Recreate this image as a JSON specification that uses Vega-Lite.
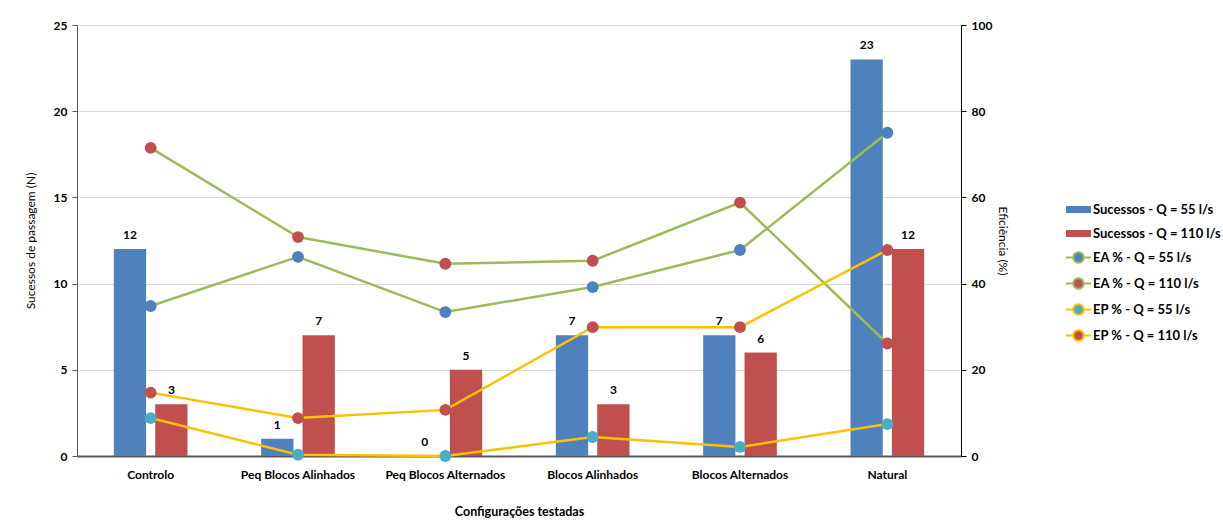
{
  "$schema": "https://vega.github.io/schema/vega-lite/v6.json",
  "width": 884,
  "height": 431,
  "autosize": "none",
  "padding": {"left": 77, "top": 25, "right": 262, "bottom": 73},
  "background": "white",
  "config": {
    "font": "Lato",
    "view": {"stroke": null}
  },
  "data": {
    "values": [
      {"config": "Controlo", "tipo": "S", "serie": "Sucessos - Q = 55 l/s", "valor": 12},
      {"config": "Peq Blocos Alinhados", "tipo": "S", "serie": "Sucessos - Q = 55 l/s", "valor": 1},
      {"config": "Peq Blocos Alternados", "tipo": "S", "serie": "Sucessos - Q = 55 l/s", "valor": 0},
      {"config": "Blocos Alinhados", "tipo": "S", "serie": "Sucessos - Q = 55 l/s", "valor": 7},
      {"config": "Blocos Alternados", "tipo": "S", "serie": "Sucessos - Q = 55 l/s", "valor": 7},
      {"config": "Natural", "tipo": "S", "serie": "Sucessos - Q = 55 l/s", "valor": 23},
      {"config": "Controlo", "tipo": "S", "serie": "Sucessos - Q = 110 l/s", "valor": 3},
      {"config": "Peq Blocos Alinhados", "tipo": "S", "serie": "Sucessos - Q = 110 l/s", "valor": 7},
      {"config": "Peq Blocos Alternados", "tipo": "S", "serie": "Sucessos - Q = 110 l/s", "valor": 5},
      {"config": "Blocos Alinhados", "tipo": "S", "serie": "Sucessos - Q = 110 l/s", "valor": 3},
      {"config": "Blocos Alternados", "tipo": "S", "serie": "Sucessos - Q = 110 l/s", "valor": 6},
      {"config": "Natural", "tipo": "S", "serie": "Sucessos - Q = 110 l/s", "valor": 12},
      {"config": "Controlo", "tipo": "EA", "serie": "EA % - Q = 55 l/s", "valor": 34.8},
      {"config": "Peq Blocos Alinhados", "tipo": "EA", "serie": "EA % - Q = 55 l/s", "valor": 46.2},
      {"config": "Peq Blocos Alternados", "tipo": "EA", "serie": "EA % - Q = 55 l/s", "valor": 33.4},
      {"config": "Blocos Alinhados", "tipo": "EA", "serie": "EA % - Q = 55 l/s", "valor": 39.2},
      {"config": "Blocos Alternados", "tipo": "EA", "serie": "EA % - Q = 55 l/s", "valor": 47.8},
      {"config": "Natural", "tipo": "EA", "serie": "EA % - Q = 55 l/s", "valor": 75},
      {"config": "Controlo", "tipo": "EA", "serie": "EA % - Q = 110 l/s", "valor": 71.5},
      {"config": "Peq Blocos Alinhados", "tipo": "EA", "serie": "EA % - Q = 110 l/s", "valor": 50.8},
      {"config": "Peq Blocos Alternados", "tipo": "EA", "serie": "EA % - Q = 110 l/s", "valor": 44.6},
      {"config": "Blocos Alinhados", "tipo": "EA", "serie": "EA % - Q = 110 l/s", "valor": 45.3},
      {"config": "Blocos Alternados", "tipo": "EA", "serie": "EA % - Q = 110 l/s", "valor": 58.8},
      {"config": "Natural", "tipo": "EA", "serie": "EA % - Q = 110 l/s", "valor": 26.1},
      {"config": "Controlo", "tipo": "EP", "serie": "EP % - Q = 55 l/s", "valor": 8.8},
      {"config": "Peq Blocos Alinhados", "tipo": "EP", "serie": "EP % - Q = 55 l/s", "valor": 0.3},
      {"config": "Peq Blocos Alternados", "tipo": "EP", "serie": "EP % - Q = 55 l/s", "valor": 0},
      {"config": "Blocos Alinhados", "tipo": "EP", "serie": "EP % - Q = 55 l/s", "valor": 4.4},
      {"config": "Blocos Alternados", "tipo": "EP", "serie": "EP % - Q = 55 l/s", "valor": 2.1},
      {"config": "Natural", "tipo": "EP", "serie": "EP % - Q = 55 l/s", "valor": 7.4},
      {"config": "Controlo", "tipo": "EP", "serie": "EP % - Q = 110 l/s", "valor": 14.7},
      {"config": "Peq Blocos Alinhados", "tipo": "EP", "serie": "EP % - Q = 110 l/s", "valor": 8.8},
      {"config": "Peq Blocos Alternados", "tipo": "EP", "serie": "EP % - Q = 110 l/s", "valor": 10.7},
      {"config": "Blocos Alinhados", "tipo": "EP", "serie": "EP % - Q = 110 l/s", "valor": 29.9},
      {"config": "Blocos Alternados", "tipo": "EP", "serie": "EP % - Q = 110 l/s", "valor": 29.9},
      {"config": "Natural", "tipo": "EP", "serie": "EP % - Q = 110 l/s", "valor": 47.8}
    ]
  },
  "layer": [
    {
      "transform": [{"filter": "datum.tipo == 'S'"}],
      "encoding": {
        "x": {
          "field": "config", "type": "nominal",
          "sort": ["Controlo", "Peq Blocos Alinhados", "Peq Blocos Alternados", "Blocos Alinhados", "Blocos Alternados", "Natural"],
          "scale": {"paddingInner": 0.5, "paddingOuter": 0.25},
          "axis": {
            "title": "Configurações testadas", "labelAngle": 0, "ticks": false,
            "labelFontSize": 12, "labelFontWeight": "bold", "labelColor": "#000000", "labelPadding": 13,
            "titleFontSize": 12.5, "titleFontWeight": "bold", "titleColor": "#000000", "titlePadding": 25,
            "domainColor": "#595959", "domainWidth": 2
          }
        },
        "xOffset": {
          "field": "serie", "type": "nominal",
          "sort": ["Sucessos - Q = 55 l/s", "Sucessos - Q = 110 l/s"],
          "scale": {"paddingInner": 0.22, "paddingOuter": 0}
        },
        "y": {
          "field": "valor", "type": "quantitative",
          "scale": {"domain": [0, 25]},
          "axis": {
            "title": "Sucessos de passagem (N)", "values": [0, 5, 10, 15, 20, 25],
            "grid": true, "gridColor": "#d9d9d9", "gridWidth": 1,
            "domainColor": "#595959", "tickColor": "#595959", "tickSize": 5,
            "labelFontSize": 12, "labelFontWeight": "bold", "labelColor": "#000000", "labelPadding": 5,
            "titleFontSize": 12, "titleFontWeight": "normal", "titleColor": "#000000", "titlePadding": 16
          }
        }
      },
      "layer": [
        {
          "mark": {"type": "bar"},
          "encoding": {
            "fill": {
              "field": "serie", "type": "nominal",
              "scale": {
                "domain": ["Sucessos - Q = 55 l/s", "Sucessos - Q = 110 l/s", "EA % - Q = 55 l/s", "EA % - Q = 110 l/s", "EP % - Q = 55 l/s", "EP % - Q = 110 l/s"],
                "range": ["#4f81bd", "#c0504d", "#4f81bd", "#c0504d", "#4bacc6", "#c0504d"]
              },
              "legend": {
                "title": null, "orient": "none", "legendX": 988, "legendY": 171,
                "symbolSize": 625, "rowPadding": 3, "labelOffset": 1,
                "labelFontSize": 13, "labelFontWeight": "bold", "labelColor": "#000000",
                "labelLimit": 300,
                "encode": {
                  "symbols": {
                    "update": {
                      "shape": [
                        {"test": "indexof(datum.label, 'Sucessos') == 0", "value": "M-1,-0.28H1V0.28H-1Z"},
                        {"value": "M-1,0H-0.42M0.42,0H1M0.42,0A0.42,0.42,0,1,1,-0.42,0A0.42,0.42,0,1,1,0.42,0Z"}
                      ],
                      "stroke": [
                        {"test": "indexof(datum.label, 'EA') == 0", "value": "#9bbb59"},
                        {"test": "indexof(datum.label, 'EP') == 0", "value": "#ffc000"},
                        {"value": "transparent"}
                      ],
                      "strokeWidth": {"value": 2}
                    }
                  }
                }
              }
            }
          }
        },
        {
          "mark": {"type": "text", "baseline": "bottom", "dy": -7, "fontSize": 12, "fontWeight": "bold", "color": "#000000"},
          "encoding": {"text": {"field": "valor", "type": "quantitative"}}
        }
      ]
    },
    {
      "transform": [{"filter": "datum.tipo != 'S'"}],
      "encoding": {
        "x": {
          "field": "config", "type": "nominal",
          "sort": ["Controlo", "Peq Blocos Alinhados", "Peq Blocos Alternados", "Blocos Alinhados", "Blocos Alternados", "Natural"]
        },
        "y": {
          "field": "valor", "type": "quantitative",
          "scale": {"domain": [0, 100]},
          "axis": {
            "orient": "right", "title": "Eficiência (%)", "values": [0, 20, 40, 60, 80, 100],
            "grid": false, "domainColor": "#000000", "tickColor": "#000000", "tickSize": 5,
            "labelFontSize": 12, "labelFontWeight": "bold", "labelColor": "#000000", "labelPadding": 5,
            "titleFontSize": 12, "titleFontWeight": "normal", "titleColor": "#000000", "titlePadding": 4
          }
        }
      },
      "layer": [
        {
          "mark": {"type": "line", "strokeWidth": 2.5},
          "encoding": {
            "detail": {"field": "serie", "type": "nominal"},
            "stroke": {"field": "tipo", "type": "nominal", "scale": {"domain": ["EA", "EP"], "range": ["#9bbb59", "#ffc000"]}, "legend": null}
          }
        },
        {
          "mark": {"type": "point", "filled": true, "size": 140, "opacity": 1},
          "encoding": {
            "fill": {"field": "serie", "type": "nominal"}
          }
        }
      ]
    }
  ],
  "resolve": {"scale": {"y": "independent"}}
}
